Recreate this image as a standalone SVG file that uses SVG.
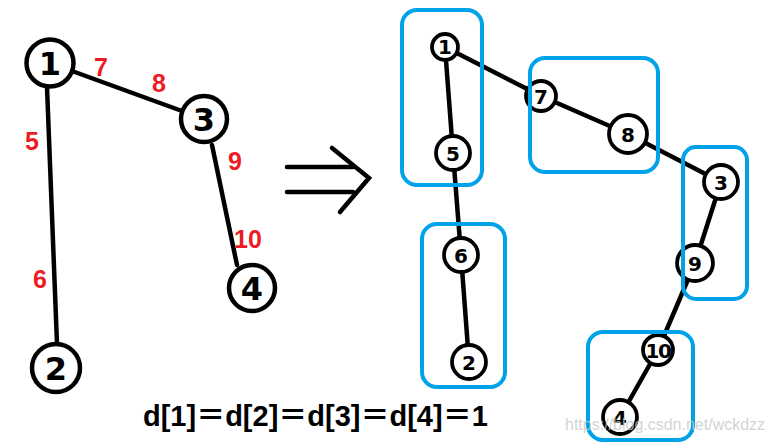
<svg xmlns="http://www.w3.org/2000/svg" width="773" height="445" viewBox="0 0 773 445">
<style>
.e{stroke:#000;stroke-width:4.5;fill:none;stroke-linecap:round}
.n{fill:#fff;stroke:#000;stroke-width:4.5}
.ns{fill:#fff;stroke:#000;stroke-width:3.8}
.t{font-family:"DejaVu Sans","Liberation Sans",sans-serif;font-weight:bold;fill:#000;text-anchor:middle;dominant-baseline:central}
.big{font-size:32px}
.sm{font-size:20px}
.w{font-family:"Liberation Sans","DejaVu Sans",sans-serif;font-weight:bold;fill:#ed1c24;font-size:25px;text-anchor:middle;dominant-baseline:central}
.b{fill:none;stroke:#00a2e8;stroke-width:4}
</style>
<rect width="773" height="445" fill="#fff"/>
<g id="connectors">
<line class="e" x1="50" y1="63" x2="204" y2="119"/>
<line class="e" x1="47" y1="87" x2="57" y2="344"/>
<line class="e" x1="212" y1="145" x2="237" y2="265"/>
<line class="e" x1="445" y1="47" x2="453" y2="153"/>
<line class="e" x1="453" y1="153" x2="461" y2="255"/>
<line class="e" x1="461" y1="255" x2="469" y2="362"/>
<line class="e" x1="445" y1="47" x2="541" y2="96"/>
<line class="e" x1="541" y1="96" x2="628" y2="134"/>
<line class="e" x1="628" y1="134" x2="721" y2="182"/>
<line class="e" x1="721" y1="182" x2="695" y2="263"/>
<line class="e" x1="695" y1="263" x2="658" y2="350"/>
<line class="e" x1="658" y1="350" x2="620" y2="417"/>
</g>
<g id="weights">
<text class="w" x="101" y="67">7</text>
<text class="w" x="159" y="83">8</text>
<text class="w" x="32" y="141">5</text>
<text class="w" x="235" y="161">9</text>
<text class="w" x="248" y="239">10</text>
<text class="w" x="40" y="279">6</text>
</g>
<g id="L1"><circle class="n" cx="50" cy="63" r="23.5"/><text class="t big" x="50" y="64">1</text></g>
<g id="L3"><circle class="n" cx="204" cy="119" r="23"/><text class="t big" x="204" y="120">3</text></g>
<g id="L4"><circle class="n" cx="252" cy="288" r="23"/><text class="t big" x="252" y="289">4</text></g>
<g id="L2"><circle class="n" cx="56" cy="368" r="24"/><text class="t big" x="56" y="369">2</text></g>
<g id="arrow">
<line class="e" x1="287" y1="167" x2="353" y2="167"/>
<line class="e" x1="287" y1="192" x2="353" y2="192"/>
<polyline class="e" points="332,148 369,178 340,212"/>
</g>
<g id="R1"><circle class="ns" cx="445" cy="47" r="13"/><text class="t sm" x="445" y="47">1</text></g>
<g id="R5"><circle class="ns" cx="453" cy="153" r="17"/><text class="t sm" x="453" y="154">5</text></g>
<g id="R7"><circle class="ns" cx="541" cy="96" r="15"/><text class="t sm" x="541" y="97">7</text></g>
<g id="R8"><circle class="ns" cx="628" cy="134" r="19"/><text class="t sm" x="628" y="135">8</text></g>
<g id="R3"><circle class="ns" cx="721" cy="182" r="17"/><text class="t sm" x="721" y="183">3</text></g>
<g id="R6"><circle class="ns" cx="461" cy="255" r="17"/><text class="t sm" x="461" y="256">6</text></g>
<g id="R2"><circle class="ns" cx="469" cy="362" r="17"/><text class="t sm" x="469" y="363">2</text></g>
<g id="R9"><circle class="ns" cx="695" cy="263" r="18"/><text class="t sm" x="695" y="264">9</text></g>
<g id="R10"><circle class="ns" cx="658" cy="350" r="15"/><text class="t sm" x="658" y="351" style="letter-spacing:-1.5px">10</text></g>
<g id="R4"><circle class="ns" cx="620" cy="417" r="17"/><text class="t sm" x="620" y="418">4</text></g>
<g id="groups">
<rect class="b" x="402" y="10" width="80" height="175" rx="15"/>
<rect class="b" x="530" y="58" width="128" height="114" rx="15"/>
<rect class="b" x="683" y="147" width="64" height="152" rx="13"/>
<rect class="b" x="422" y="224" width="83" height="163" rx="15"/>
<rect class="b" x="588" y="332" width="105" height="108" rx="15"/>
</g>
<text x="143" y="426" style="font-family:'Liberation Sans','Noto Sans CJK SC',sans-serif;font-weight:bold;font-size:29px;fill:#000">d[1]＝d[2]＝d[3]＝d[4]＝1</text>
<text x="565" y="430" style="font-family:'Liberation Sans',sans-serif;font-size:16px;fill:#c8c8c8;fill-opacity:0.8">https://blog.csdn.net/wckdzz</text>
</svg>
